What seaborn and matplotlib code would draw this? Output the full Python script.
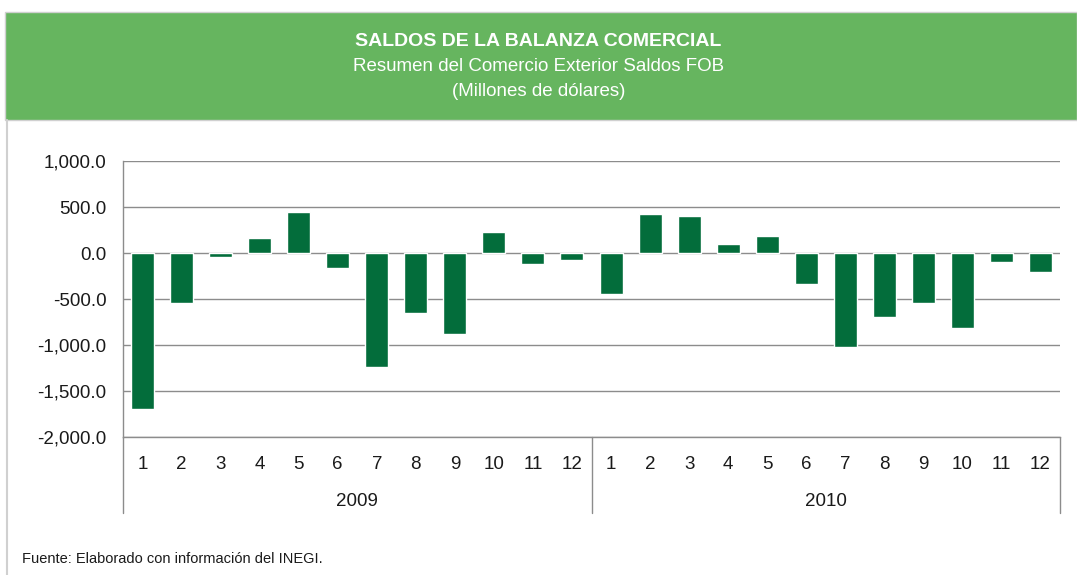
"""Saldos de la balanza comercial, 2009-2010."""

import matplotlib.pyplot as plt
import matplotlib.transforms as mtransforms
from matplotlib.patches import Rectangle
from matplotlib.lines import Line2D
import pandas as pd
import seaborn as sns

years = ["2009", "2010"]
months = [str(m) for m in range(1, 13)]
saldos_2009 = [-1700, -548, -45, 167, 450, -167, -1235, -657, -875, 232, -123, -80]
saldos_2010 = [-450, 429, 407, 102, 189, -341, -1017, -701, -548, -810, -102, -211]
y_ticks = [-2000, -1500, -1000, -500, 0, 500, 1000]

HEADER_GREEN = "#66B55F"
BAR_GREEN = "#036D3B"
GRID_GRAY = "#8C8C8C"
TEXT = "#1A1A1A"

df = pd.DataFrame(
    {
        "year": [years[0]] * 12 + [years[1]] * 12,
        "month": months + months,
        "saldo": saldos_2009 + saldos_2010,
    }
)
df["key"] = df["year"] + "-" + df["month"]

sns.set_theme(style="white")
plt.rcParams["font.family"] = ["Liberation Sans", "DejaVu Sans"]

W, H = 1077, 575
fig = plt.figure(figsize=(W / 100, H / 100), dpi=100)

# green header band
fig.patches.append(
    Rectangle((5 / W, 1 - 120 / H), 1 - 5 / W, 108 / H, transform=fig.transFigure,
              facecolor=HEADER_GREEN, edgecolor="#D0D0D0", linewidth=1, zorder=0)
)
fig.lines.append(
    Line2D([7 / W, 7 / W], [0, 1 - 120 / H], transform=fig.transFigure,
           color="#D0D0D0", linewidth=1.5)
)
fig.text(0.5, 1 - 42 / H, "SALDOS DE LA BALANZA COMERCIAL", ha="center", va="center",
         color="white", fontsize=14, fontweight="bold")
fig.text(0.5, 1 - 67 / H, "Resumen del Comercio Exterior Saldos FOB", ha="center",
         va="center", color="white", fontsize=13.5)
fig.text(0.5, 1 - 92 / H, "(Millones de dólares)", ha="center", va="center",
         color="white", fontsize=13.5)

ax = fig.add_axes([123 / W, 1 - 437 / H, (1060 - 123) / W, (437 - 161) / H])
sns.barplot(data=df, x="key", y="saldo", color=BAR_GREEN, saturation=1, width=0.59,
            ax=ax, zorder=3)

ax.set_ylim(y_ticks[0], y_ticks[-1])
ax.set_yticks(y_ticks)
ax.set_yticklabels([f"{v:,.1f}" for v in y_ticks])
ax.set_xlim(-0.5, len(df) - 0.5)
ax.set_xticks(range(len(df)))
ax.set_xticklabels(df["month"])
ax.tick_params(axis="both", length=0, labelsize=13.5, colors=TEXT)
ax.tick_params(axis="x", pad=14)
ax.tick_params(axis="y", pad=12)
ax.set_xlabel("")
ax.set_ylabel("")
ax.yaxis.grid(True, color=GRID_GRAY, linewidth=1)
ax.set_axisbelow(True)
for side in ["top", "right"]:
    ax.spines[side].set_visible(False)
for side in ["left", "bottom"]:
    ax.spines[side].set_color(GRID_GRAY)
    ax.spines[side].set_linewidth(1)

# two-level category axis: year dividers and year labels
trans = mtransforms.blended_transform_factory(ax.transData, ax.transAxes)
drop = -(513 - 437) / (437 - 161)
for x in [-0.5, 11.5, len(df) - 0.5]:
    ax.plot([x, x], [0, drop], transform=trans, color=GRID_GRAY, linewidth=1,
            clip_on=False)
for i, year in enumerate(years):
    ax.text(i * 12 + 5.5, -(501 - 437) / (437 - 161), year, transform=trans,
            ha="center", va="center", fontsize=13.5, color=TEXT)

fig.text(22 / W, 1 - 559 / H, "Fuente: Elaborado con información del INEGI.",
         ha="left", va="center", fontsize=10.5, color=TEXT)

fig.savefig("out.png", dpi=100)
